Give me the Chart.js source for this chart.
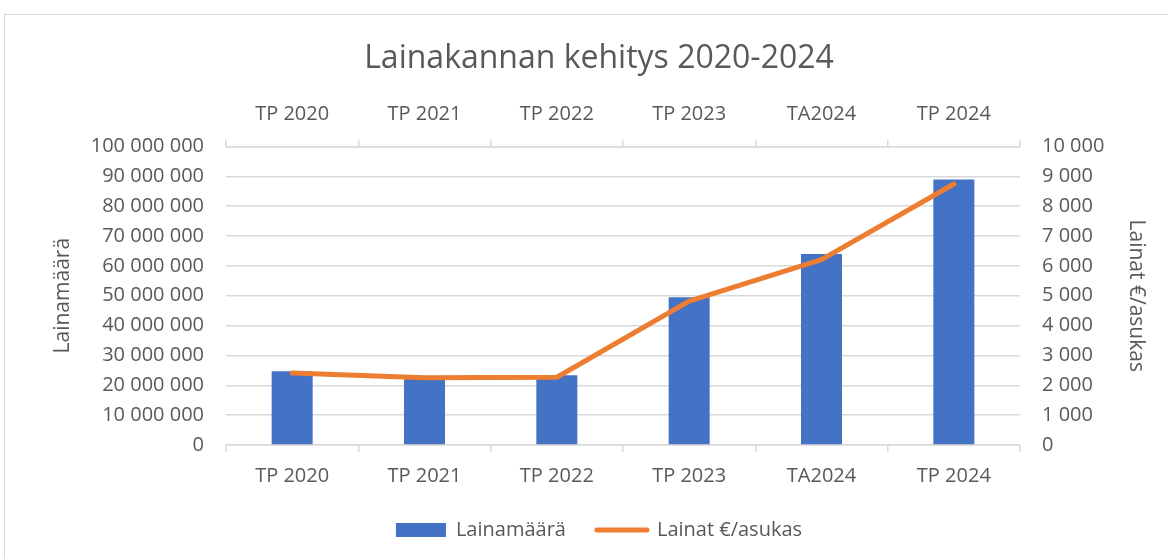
<!DOCTYPE html>
<html>
<head>
<meta charset="utf-8">
<script src="https://cdn.jsdelivr.net/npm/chart.js@4/dist/chart.umd.min.js"></script>
<style>
  html, body { margin: 0; padding: 0; background: #fff; }
  #wrap { position: absolute; left: 0; top: 0; width: 1168px; height: 559px; }
</style>
</head>
<body>
<div id="wrap"><canvas id="lainaChart"></canvas></div>
<script>
const categories = ['TP 2020', 'TP 2021', 'TP 2022', 'TP 2023', 'TA2024', 'TP 2024'];
const lainamaara = [24700000, 22500000, 23400000, 49500000, 64000000, 88900000];
const lainatAsukas = [2410, 2250, 2270, 4820, 6210, 8740];

const textColor = '#595959';
const gridColor = '#d9d9d9';
const fontFam = "'Open Sans', 'Noto Sans', sans-serif";

function fmt(v) {
    return String(Math.round(v)).replace(/\B(?=(\d{3})+(?!\d))/g, ' ');
}

// grey frame around the chart like in the excel picture
const framePlugin = {
    id: 'frame',
    beforeDraw(chart) {
        const c = chart.ctx;
        c.save();
        c.strokeStyle = gridColor;
        c.lineWidth = 1;
        c.strokeRect(4.5, 14.5, 1200, 600);
        c.restore();
    }
};

const ctx = document.getElementById('lainaChart').getContext('2d');
const chart = new Chart(ctx, {
    type: 'bar',
    data: {
        labels: categories,
        datasets: [{
            type: 'bar',
            label: 'Lainamäärä',
            data: lainamaara,
            backgroundColor: '#4472C4',
            borderWidth: 0,
            barPercentage: 0.31,
            categoryPercentage: 1,
            grouped: false,
            xAxisID: 'x',
            yAxisID: 'y',
            order: 1
        }, {
            type: 'line',
            label: 'Lainat €/asukas',
            data: lainatAsukas,
            borderColor: '#ED7D31',
            backgroundColor: '#ED7D31',
            borderWidth: 5,
            borderCapStyle: 'round',
            borderJoinStyle: 'round',
            pointRadius: 0,
            tension: 0,
            xAxisID: 'x2',
            yAxisID: 'y2',
            order: 0
        }]
    },
    options: {
        responsive: true,
        maintainAspectRatio: false,
        animation: false,
        layout: { padding: { left: 30, right: 0, top: 0, bottom: 9 } },
        scales: {
            x: {
                position: 'bottom',
                offset: true,
                grid: { offset: true, drawOnChartArea: false, tickLength: 7, color: gridColor, lineWidth: 1.5 },
                border: { color: gridColor, width: 1.5 },
                ticks: { color: textColor, font: { family: fontFam, size: 20 }, padding: 12, maxRotation: 0 },
                afterFit(s) { s.height = 44; }
            },
            x2: {
                position: 'top',
                offset: true,
                labels: categories,
                grid: { offset: true, drawOnChartArea: false, tickLength: 7, color: gridColor, lineWidth: 1.5 },
                border: { color: gridColor, width: 1.5 },
                ticks: { color: textColor, font: { family: fontFam, size: 20 }, padding: 13, maxRotation: 0 },
                afterFit(s) { s.height = 58; }
            },
            y: {
                position: 'left',
                min: 0,
                max: 100000000,
                ticks: { stepSize: 10000000, color: textColor, font: { family: fontFam, size: 20 }, padding: 22, callback: v => fmt(v) },
                grid: { color: gridColor, lineWidth: 1.5, drawTicks: false },
                border: { display: false },
                title: { display: true, text: 'Lainamäärä', color: textColor, font: { family: fontFam, size: 21 }, padding: { top: 20, bottom: 0 } },
                afterFit(s) { s.width = 196; }
            },
            y2: {
                position: 'right',
                min: 0,
                max: 10000,
                ticks: { stepSize: 1000, color: textColor, font: { family: fontFam, size: 20 }, padding: 22, callback: v => fmt(v) },
                grid: { drawOnChartArea: false, drawTicks: false },
                border: { display: false },
                title: { display: true, text: 'Lainat €/asukas', color: textColor, font: { family: fontFam, size: 21 }, padding: { top: 19, bottom: 0 } },
                afterFit(s) { s.width = 148; }
            }
        },
        plugins: {
            title: {
                display: true,
                text: 'Lainakannan kehitys 2020-2024',
                color: textColor,
                font: { family: fontFam, size: 32, weight: 'normal' },
                padding: { top: 40, bottom: 10 }
            },
            legend: {
                position: 'bottom',
                labels: {
                    color: textColor,
                    font: { family: fontFam, size: 20 },
                    usePointStyle: true,
                    pointStyleWidth: 50,
                    boxHeight: 14,
                    padding: 31,
                    sort: (a, b) => a.datasetIndex - b.datasetIndex,
                    generateLabels(ch) {
                        const items = Chart.defaults.plugins.legend.labels.generateLabels(ch);
                        items.forEach(it => {
                            if (it.datasetIndex === 0) {
                                it.pointStyle = 'rect';
                                it.lineWidth = 0;
                                it.strokeStyle = '#4472C4';
                            } else {
                                it.pointStyle = 'line';
                                it.lineWidth = 5;
                                it.lineCap = 'round';
                            }
                        });
                        return items;
                    }
                }
            },
            tooltip: { enabled: false }
        }
    },
    plugins: [framePlugin]
});
</script>
</body>
</html>
